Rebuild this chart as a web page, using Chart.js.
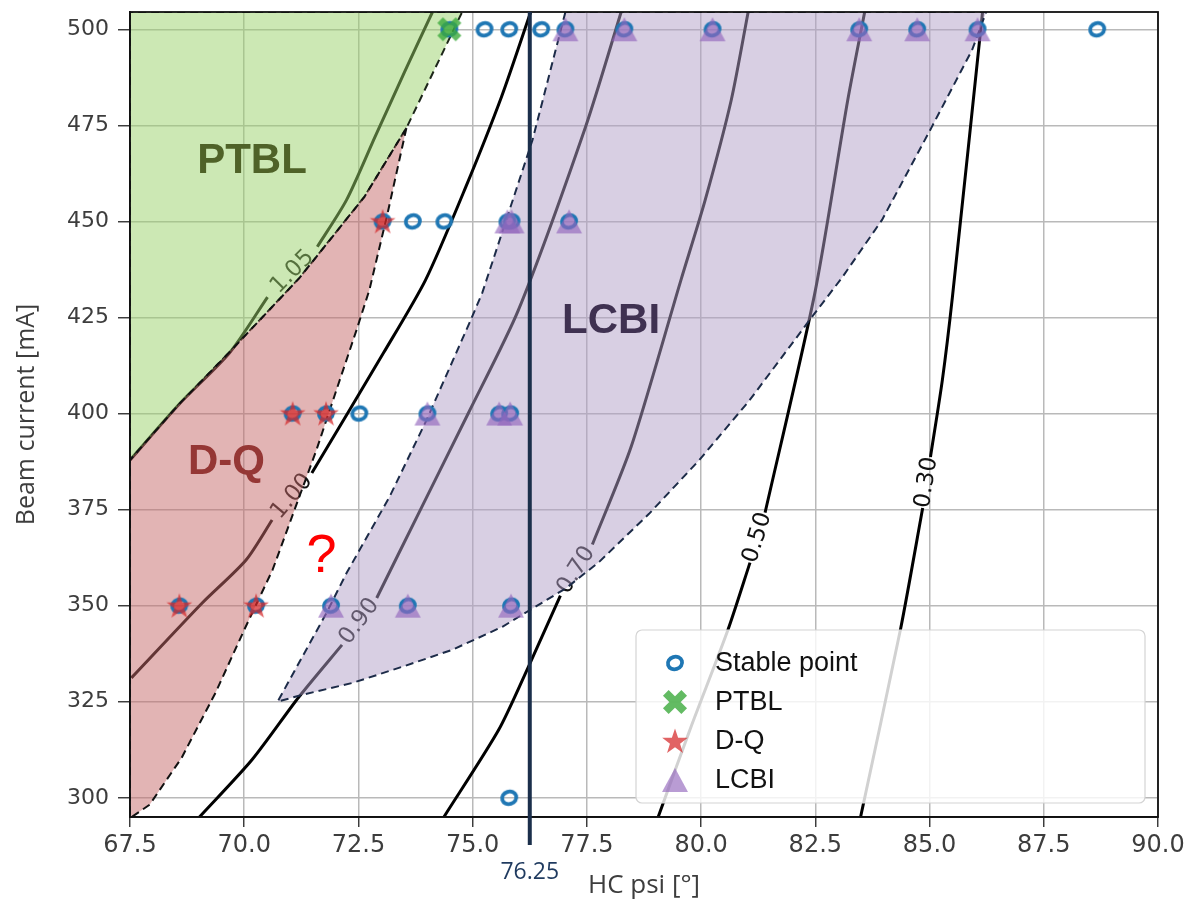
<!DOCTYPE html>
<html><head><meta charset="utf-8">
<script src="https://cdn.jsdelivr.net/npm/chart.js@4.4.1/dist/chart.umd.min.js"></script>
<style>html,body{margin:0;padding:0;background:#fff;}#wrap{width:1188px;height:901px;}</style>
</head><body><div id="wrap"><canvas id="c" width="1188" height="901"></canvas></div>
<script>
// ---------- axes ----------
const xTicks = [67.5, 70, 72.5, 75, 77.5, 80, 82.5, 85, 87.5, 90];
const yTicks = [300, 325, 350, 375, 400, 425, 450, 475, 500];
const xRange = [67.5, 90];
const yRange = [295.0, 504.5];
const hcSetting = 76.25;
const xTitle = 'HC psi [°]';
const yTitle = 'Beam current [mA]';

// ---------- measured points ----------
const stableX = [75.26, 75.80, 76.50, 88.67, 74.49, 77.03, 78.32, 80.25, 83.46, 84.73, 86.05,
                 73.69, 74.38, 73.03, 75.76, 75.85, 77.11,
                 72.52, 71.06, 71.79, 74.01, 75.58, 75.82,
                 68.58, 70.26, 71.90, 73.58, 75.84,
                 75.80];
const stableY = [500, 500, 500, 500, 500, 500, 500, 500, 500, 500, 500,
                 450, 450, 450, 450, 450, 450,
                 400, 400, 400, 400, 400, 400,
                 350, 350, 350, 350, 350,
                 300];
const ptblX = [74.49];
const ptblY = [500];
const dqX = [73.03, 71.06, 71.79, 68.58, 70.26];
const dqY = [450, 400, 400, 350, 350];
const lcbiX = [77.03, 78.32, 80.25, 83.46, 84.73, 86.05, 75.76, 75.85, 77.11, 74.01, 75.58, 75.82, 71.90, 73.58, 75.84];
const lcbiY = [500, 500, 500, 500, 500, 500, 450, 450, 450, 400, 400, 400, 350, 350, 350];

// ---------- contour lines (null = label gap) ----------
const contourLevels = ['1.05', '1.00', '0.90', '0.70', '0.50', '0.30'];
const c105X = [67.5, 68.58, 69.68, 70.51, null, 71.60, 72.24, 72.87, 73.51, 74.12];
const c105Y = [387.9, 402.5, 415.8, 430.3, null, 443.4, 455.6, 472.2, 488.9, 504.5];
const c100X = [67.53, 69.08, 70.04, 70.61, null, 71.48, 73.05, 73.97, 74.85, 75.63, 76.27];
const c100Y = [331.2, 350.7, 361.9, 372.3, null, 384.5, 415.8, 434.8, 459.0, 482.4, 504.5];
const c090X = [69.02, 70.17, 71.20, 72.14, null, 72.90, 73.82, 74.91, 76.00, 77.47, 78.25];
const c090Y = [295.0, 309.9, 326.3, 339.8, null, 352.0, 374.1, 400.2, 426.9, 474.6, 504.5];
const c070X = [74.37, 75.57, 76.22, 76.92, null, 77.62, 78.47, 79.56, 80.09, 80.66, 81.03];
const c070Y = [295.0, 317.7, 334.1, 352.6, null, 365.9, 391.4, 434.8, 455.6, 481.6, 504.5];
const c050X = [79.06, 79.78, 80.59, 81.07, null, 81.40, 82.49, 83.21, 83.58];
const c050Y = [295.0, 318.5, 343.8, 361.2, null, 374.2, 431.4, 481.6, 504.5];
const c030X = [83.49, 84.37, 84.85, null, 85.02, 85.28, 85.50, 86.16];
const c030Y = [295.0, 344.2, 375.4, null, 388.7, 408.7, 430.3, 504.5];

// ---------- instability regions ----------
const ptblRegionX = [67.5, 67.5, 68.58, 69.68, 71.21, 72.63, 73.55, 74.77, 67.5];
const ptblRegionY = [504.5, 387.9, 402.5, 416.0, 435.3, 456.4, 474.3, 504.5, 504.5];
const dqRegionX = [73.55, 73.13, 72.74, 72.46, 72.02, 71.58, 71.10, 70.62, 70.00, 69.37, 68.63, 67.93, 67.55, 67.5, 67.5, 68.58, 69.68, 71.21, 72.63, 73.55];
const dqRegionY = [474.3, 451.7, 432.2, 421.8, 406.2, 390.5, 374.9, 359.3, 343.7, 327.3, 310.4, 298.2, 295.1, 295.0, 387.9, 402.5, 416.0, 435.3, 456.4, 474.3];
const lcbiRegionX = [77.03, 76.31, 75.21, 74.93, 73.99, 73.18, 72.24, 71.80, 70.73,
                     71.27, 72.37, 73.46, 74.55, 75.65, 77.05, 77.77, 78.86, 79.96, 81.05, 82.43, 83.08, 83.96, 85.05, 85.93, 86.24, 77.03];
const lcbiRegionY = [504.5, 471.2, 431.4, 423.6, 398.3, 378.3, 358.5, 348.1, 325.0,
                     326.8, 329.9, 334.1, 338.5, 344.5, 354.6, 361.4, 373.9, 387.9, 403.3, 425.2, 435.3, 450.4, 474.6, 494.6, 504.5, 504.5];

// ---------- region annotations ----------
const regionTexts = ['PTBL', 'D-Q', 'LCBI', '?'];
const regionTextX = [70.17, 69.61, 78.03, 71.69];
const regionTextY = [465.5, 387.4, 423.9, 362.7];
const regionTextColors = ['#4f6228', '#953735', '#3f3151', '#ff0000'];

// ---------- helpers ----------
const pts = (xs, ys) => xs.map((x, i) => (x === null ? {x: null, y: null} : {x: x, y: ys[i]}));
function mk(w, h, draw) { const c = document.createElement('canvas'); c.width = w; c.height = h; draw(c.getContext('2d'), w, h); return c; }
const circleMk = mk(22, 20, g => { g.strokeStyle = '#1f77b4'; g.lineWidth = 3.8; g.beginPath(); g.ellipse(11, 10, 7.2, 6.2, -0.3, 0, Math.PI * 2); g.stroke(); });
const xMk = mk(28, 28, g => { g.fillStyle = 'rgba(60,170,60,0.8)'; g.translate(14, 14); g.rotate(Math.PI / 4); g.beginPath(); g.rect(-13, -4, 26, 8); g.rect(-4, -13, 8, 26); g.fill(); });
const starMk = mk(28, 28, g => { g.fillStyle = 'rgba(214,39,40,0.72)'; g.beginPath(); for (let i = 0; i < 10; i++) { const r = i % 2 ? 5.3 : 13.5; const a = -Math.PI / 2 + i * Math.PI / 5; const px = 14 + r * Math.cos(a), py = 15 + r * Math.sin(a); i ? g.lineTo(px, py) : g.moveTo(px, py); } g.closePath(); g.fill(); });
const triMk = mk(28, 26, g => { g.fillStyle = 'rgba(148,103,189,0.65)'; g.beginPath(); g.moveTo(14, 1); g.lineTo(1, 25); g.lineTo(27, 25); g.closePath(); g.fill(); });

const contourSets = [[c105X, c105Y], [c100X, c100Y], [c090X, c090Y], [c070X, c070Y], [c050X, c050Y], [c030X, c030Y]];

const datasets = [
  {label: 'Stable point', data: pts(stableX, stableY), showLine: false, pointStyle: circleMk, pointRadius: 6, order: 4, inLegend: true},
  {label: 'PTBL', data: pts(ptblX, ptblY), showLine: false, pointStyle: xMk, pointRadius: 6, order: 3, inLegend: true},
  {label: 'D-Q', data: pts(dqX, dqY), showLine: false, pointStyle: starMk, pointRadius: 6, order: 2, inLegend: true},
  {label: 'LCBI', data: pts(lcbiX, lcbiY), showLine: false, pointStyle: triMk, pointRadius: 6, order: 1, inLegend: true},
  {label: 'PTBL region', data: pts(ptblRegionX, ptblRegionY), fill: 'shape', backgroundColor: 'rgba(153,209,105,0.5)', borderColor: '#1d261a', borderWidth: 2, borderDash: [8, 5], pointRadius: 0, tension: 0, order: 7},
  {label: 'D-Q region', data: pts(dqRegionX, dqRegionY), fill: 'shape', backgroundColor: 'rgba(198,106,106,0.5)', borderColor: '#111', borderWidth: 2, borderDash: [8, 5], pointRadius: 0, tension: 0, order: 6},
  {label: 'LCBI region', data: pts(lcbiRegionX, lcbiRegionY), fill: 'shape', backgroundColor: 'rgba(177,159,199,0.5)', borderColor: '#1c2b48', borderWidth: 2, borderDash: [8, 5], pointRadius: 0, tension: 0, order: 5}
];
contourSets.forEach((s, i) => datasets.push({label: contourLevels[i], data: pts(s[0], s[1]), isContour: true, borderColor: '#000', borderWidth: 3, pointRadius: 0, tension: 0.25, fill: false, spanGaps: false, order: 10}));

const overlay = {
  id: 'overlay',
  afterDatasetDraw(chart, args) {
    const ds = chart.data.datasets[args.index];
    if (!ds.isContour) return;
    const k = ds.data.findIndex(p => p.x === null);
    const m = args.meta.data;
    const p1 = m[k - 1], p2 = m[k + 1];
    let ang = Math.atan2(p2.y - p1.y, p2.x - p1.x);
    if (ang > Math.PI / 2) ang -= Math.PI;
    if (ang < -Math.PI / 2) ang += Math.PI;
    const ctx = chart.ctx;
    ctx.save();
    ctx.translate((p1.x + p2.x) / 2, (p1.y + p2.y) / 2);
    ctx.rotate(ang);
    ctx.font = '23px "DejaVu Sans"';
    ctx.fillStyle = '#111';
    ctx.textAlign = 'center'; ctx.textBaseline = 'middle';
    ctx.fillText(ds.label, 0, 0);
    ctx.restore();
  },
  afterDatasetsDraw(chart) {
    const {ctx, chartArea: ca, scales: {x, y}} = chart;
    ctx.save();
    ctx.strokeStyle = '#111'; ctx.lineWidth = 1.8;
    ctx.strokeRect(ca.left, ca.top, ca.right - ca.left, ca.bottom - ca.top);
    ctx.textAlign = 'center'; ctx.textBaseline = 'middle';
    regionTexts.forEach((t, i) => {
      ctx.font = t === '?' ? '54px "Liberation Sans"' : 'bold 42px "Liberation Sans"';
      ctx.fillStyle = regionTextColors[i];
      ctx.fillText(t, x.getPixelForValue(regionTextX[i]), y.getPixelForValue(regionTextY[i]));
    });
    const hx = x.getPixelForValue(hcSetting);
    ctx.strokeStyle = '#1b2f4b'; ctx.lineWidth = 4;
    ctx.beginPath(); ctx.moveTo(hx, ca.top); ctx.lineTo(hx, ca.bottom + 28); ctx.stroke();
    ctx.font = '23px "Open Sans"'; ctx.fillStyle = '#1f3a5f';
    ctx.fillText(hcSetting.toFixed(2), hx, ca.bottom + 55);
    ctx.restore();
  },
  afterDraw(chart) {
    const {ctx, chartArea: ca} = chart;
    const items = chart.data.datasets.filter(d => d.inLegend);
    const bw = 509, bh = 173;
    const bx = ca.right - 13 - bw, by = ca.bottom - 14 - bh;
    ctx.save();
    ctx.fillStyle = 'rgba(255,255,255,0.82)';
    ctx.strokeStyle = '#d4d4d4'; ctx.lineWidth = 1.2;
    ctx.beginPath(); ctx.roundRect(bx, by, bw, bh, 6); ctx.fill(); ctx.stroke();
    ctx.font = '27px "Liberation Sans"'; ctx.fillStyle = '#111';
    ctx.textAlign = 'left'; ctx.textBaseline = 'middle';
    items.forEach((d, i) => {
      const cy = by + 33 + i * 39;
      const img = d.pointStyle;
      ctx.drawImage(img, bx + 39 - img.width / 2, cy - img.height / 2);
      ctx.fillText(d.label, bx + 79, cy + 1);
    });
    ctx.restore();
  }
};

new Chart(document.getElementById('c'), {
  type: 'line',
  data: {datasets: datasets},
  options: {
    responsive: false, animation: false, events: [],
    layout: {padding: {top: 12, right: 30, left: 0, bottom: 0}},
    plugins: {legend: {display: false}, tooltip: {enabled: false}},
    scales: {
      x: {
        type: 'linear', min: xRange[0], max: xRange[1],
        afterBuildTicks: s => { s.ticks = xTicks.map(v => ({value: v})); },
        afterFit: s => { s.height = 84; s.paddingLeft = 0; s.paddingRight = 0; },
        ticks: {callback: v => v.toFixed(1), font: {family: 'DejaVu Sans', size: 24}, color: '#3d3d3d', padding: 4, maxRotation: 0, autoSkip: false},
        grid: {color: '#b9b9b9', lineWidth: 1.5, tickLength: 10, tickColor: '#333', tickWidth: 1.4},
        border: {color: '#111', width: 1.8},
        title: {display: true, text: xTitle, font: {family: 'Open Sans', size: 26}, color: '#3d3d3d', padding: {top: 0, bottom: 0}}
      },
      y: {
        type: 'linear', min: yRange[0], max: yRange[1],
        afterBuildTicks: s => { s.ticks = yTicks.map(v => ({value: v})); },
        afterFit: s => { s.width = 130; s.paddingTop = 0; s.paddingBottom = 0; },
        ticks: {callback: v => String(v), font: {family: 'DejaVu Sans', size: 22}, color: '#3d3d3d', padding: 9, autoSkip: false},
        grid: {color: '#b9b9b9', lineWidth: 1.5, tickLength: 12, tickColor: '#333', tickWidth: 1.4},
        border: {color: '#111', width: 1.8},
        title: {display: true, text: yTitle, font: {family: 'Open Sans', size: 25}, color: '#3d3d3d', padding: {top: 12, bottom: 0}}
      }
    }
  },
  plugins: [overlay]
});
</script></body></html>
